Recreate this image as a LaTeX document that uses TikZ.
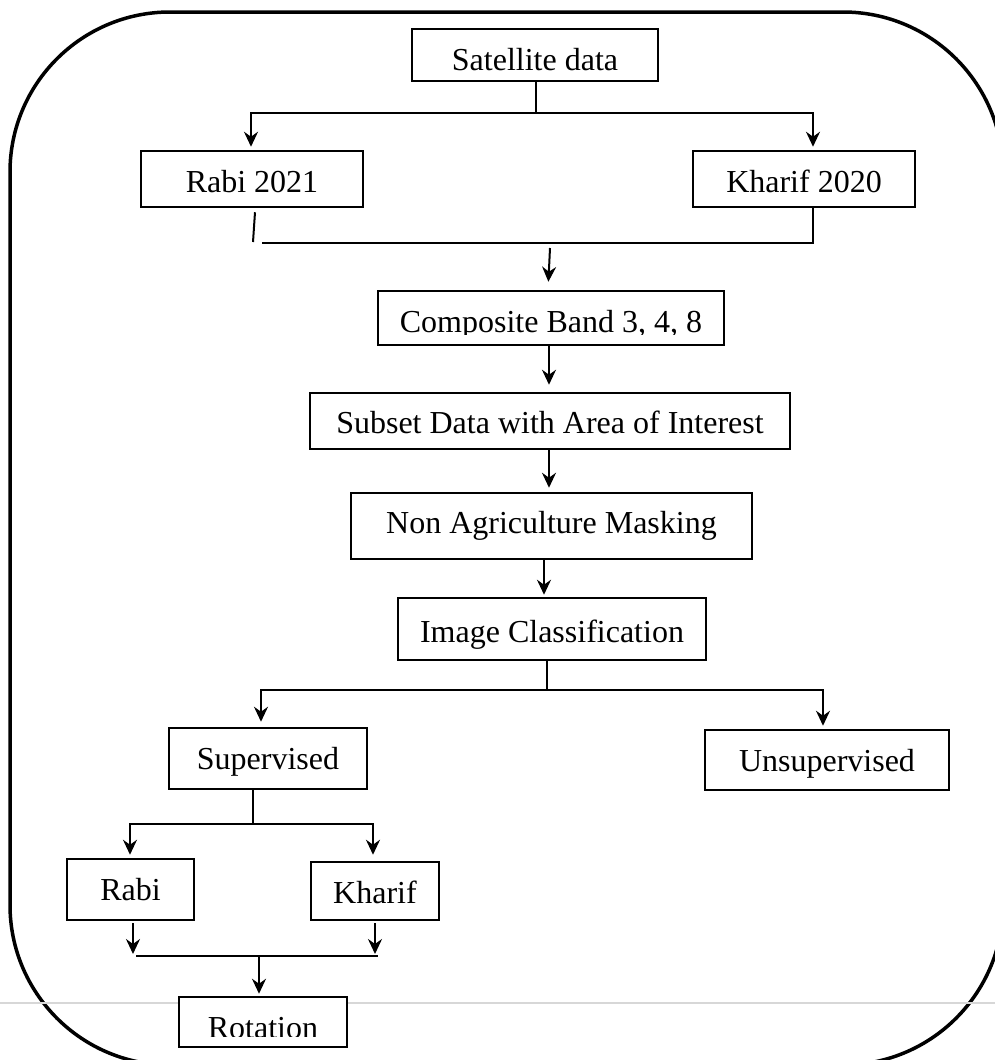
\documentclass[tikz,border=0pt]{standalone}
\usepackage{fontspec}
\setmainfont{Liberation Serif}
\usetikzlibrary{arrows.meta}
\definecolor{rulegray}{RGB}{215,215,215}
\begin{document}
\begin{tikzpicture}[x=1pt,y=-1pt,
  box/.style={draw, line width=2.5pt, inner sep=0pt, font=\fontsize{32}{32}\selectfont, text depth=0pt},
  txt/.style={inner sep=0pt, font=\fontsize{32}{32}\selectfont},
  conn/.style={line width=2pt},
  arr/.style={conn, -{Stealth[length=15pt,width=14pt,inset=5pt]}}
]
\useasboundingbox (0,0) rectangle (995,1060);
% outer frame
\draw[line width=3.5pt, rounded corners=160pt] (10,12) rectangle (1003,1065);

% boxes
\node[box, minimum width=246pt, minimum height=52pt, text height=30pt] (sat) at (535,55) {Satellite data};
\node[box, minimum width=222pt, minimum height=56pt, text height=26pt] (r20) at (252,179) {Rabi 2021};
\node[box, minimum width=222pt, minimum height=56pt, text height=26pt] (k20) at (804,179) {Kharif 2020};
\node[box, minimum width=346pt, minimum height=54pt] (comp) at (551,318) {};
\begin{scope}
  \clip (380,293) rectangle (722,334);
  \node[txt, anchor=base] (compT) at (551,332) {Composite Band 3, 4, 8};
\end{scope}
\node[box, minimum width=480pt, minimum height=56pt, text height=24pt] (sub) at (550,421) {Subset Data with Area of Interest};
\node[box, minimum width=401pt, minimum height=66pt, text height=14pt] (nam) at (551.5,526) {Non Agriculture Masking};
\node[box, minimum width=308pt, minimum height=62pt, text height=26pt] (ic) at (552,629) {Image Classification};
\node[box, minimum width=198pt, minimum height=61pt, text height=21pt] (sup) at (268,758.5) {Supervised};
\node[box, minimum width=244pt, minimum height=60pt, text height=22pt] (uns) at (827,760) {Unsupervised};
\node[box, minimum width=127pt, minimum height=61pt, text height=21pt] (rabi) at (130.5,889.5) {Rabi};
\node[box, minimum width=128pt, minimum height=58pt, text height=24pt] (kh) at (375,891) {Kharif};

% thin gray rule
\coordinate (gl) at (0,1003);
\coordinate (gr) at (995,1003);
\draw[rulegray, line width=1.5pt] (gl) -- (gr);

\node[box, fill=white, minimum width=168pt, minimum height=50pt] (rot) at (263,1022) {};
\begin{scope}
  \clip (181,999) rectangle (345,1036.5);
  \node[txt, anchor=base] (rotT) at (263,1038) {Rotation};
\end{scope}

% connectors
\coordinate (j1) at (536,113);
\draw[conn] (sat.south -| j1) -- (j1);
\draw[arr, shorten >=3pt] (j1) -| ([xshift=-1pt]r20.north);
\draw[arr, shorten >=3pt] (j1) -| ([xshift=9pt]k20.north);

\coordinate (s1) at (253,242);
\draw[conn] ([xshift=3pt,yshift=-4pt]r20.south) -- (s1);
\coordinate (m1) at (262,243);
\draw[conn] ([xshift=9pt]k20.south) |- (m1);
\coordinate (m2) at (550,248);
\draw[arr, shorten >=8pt] (m2) -- ([xshift=-3pt]comp.north);

\draw[arr, shorten >=7pt] ([xshift=-2pt]comp.south) -- ([xshift=-1pt]sub.north);
\draw[arr, shorten >=4pt] ([xshift=-1pt]sub.south) -- ([xshift=-2.5pt]nam.north);
\draw[arr, shorten >=2pt] ([xshift=-7.5pt]nam.south) -- ([xshift=-8pt]ic.north);

\coordinate (j2) at (547,690);
\draw[conn] (ic.south -| j2) -- (j2);
\draw[arr, shorten >=5pt] (j2) -| ([xshift=-7pt]sup.north);
\draw[arr, shorten >=3pt] (j2) -| ([xshift=-4pt]uns.north);

\coordinate (j3) at (253,824);
\draw[conn] (sup.south -| j3) -- (j3);
\draw[arr, shorten >=3pt] (j3) -| ([xshift=-0.5pt]rabi.north);
\draw[arr, shorten >=6pt] (j3) -| ([xshift=-2pt]kh.north);

\coordinate (b1) at (133,954);
\coordinate (b2) at (375,954);
\draw[arr] ([xshift=2.5pt,yshift=-2pt]rabi.south) -- (b1);
\draw[arr] ([yshift=-2pt]kh.south) -- (b2);
\coordinate (h1) at (136,956);
\coordinate (h2) at (378,956);
\draw[conn] (h1) -- (h2);
\coordinate (j5) at (259,956);
\draw[arr, shorten >=2pt] (j5) -- (j5 |- rot.north);
\end{tikzpicture}
\end{document}
